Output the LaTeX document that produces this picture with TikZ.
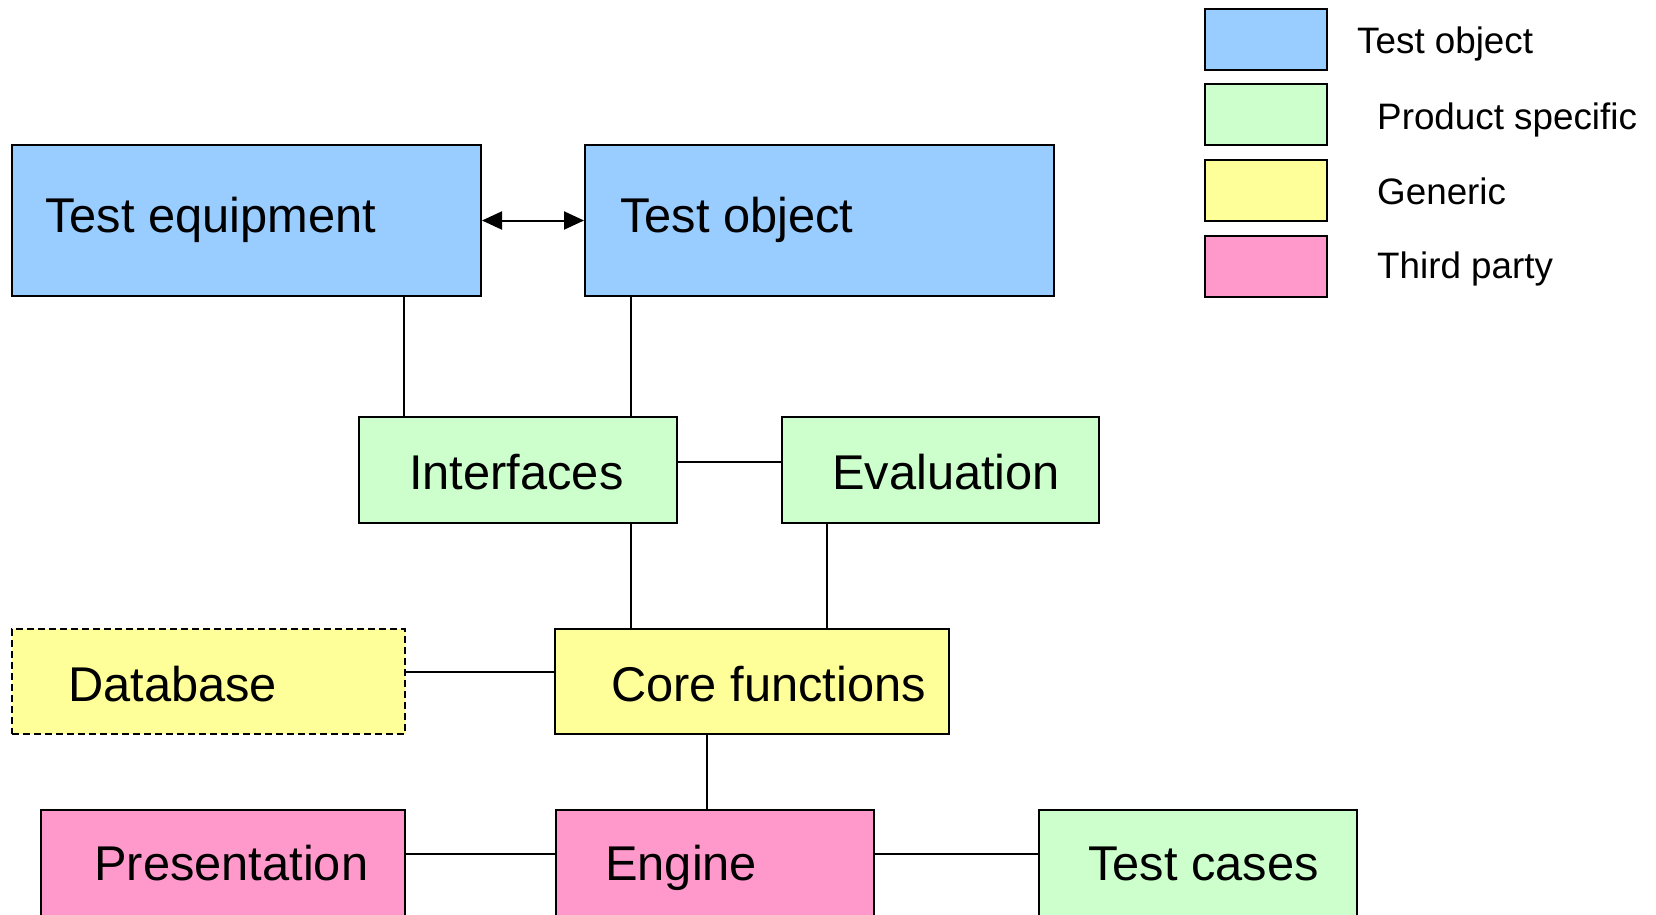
\documentclass[tikz,border=0pt]{standalone}
\usepackage{fontspec}
\setmainfont{Liberation Sans}
\usetikzlibrary{arrows.meta}
\definecolor{objblue}{HTML}{99CCFF}
\definecolor{prodgreen}{HTML}{CCFFCC}
\definecolor{genyellow}{HTML}{FFFF99}
\definecolor{thirdpink}{HTML}{FF99CC}
\begin{document}
\begin{tikzpicture}[x=1pt,y=-1pt,
  box/.style={draw=black, line width=2pt, inner sep=0pt, anchor=north west},
  legbox/.style={box, minimum width=122pt, minimum height=61pt},
  bigtext/.style={anchor=base west, inner sep=0pt, font=\fontsize{48.8pt}{58pt}\selectfont},
  legtext/.style={anchor=base west, inner sep=0pt, font=\fontsize{36.8pt}{43pt}\selectfont},
  link/.style={draw=black, line width=2pt},
  headtip/.tip={Triangle[length=20pt,width=18pt]}]
\useasboundingbox (0,0) rectangle (1656,914);
\clip (0,0) rectangle (1656,914);

% component boxes
\node[box, fill=objblue, minimum width=469pt, minimum height=151pt] (equip) at (11,144) {};
\node[box, fill=objblue, minimum width=469pt, minimum height=151pt] (tobj) at (584,144) {};
\node[box, fill=prodgreen, minimum width=318pt, minimum height=106pt] (iface) at (358,416) {};
\node[box, fill=prodgreen, minimum width=317pt, minimum height=106pt] (eval) at (781,416) {};
\node[box, fill=genyellow, dash pattern=on 7pt off 4pt, minimum width=393pt, minimum height=105pt] (db) at (11,628) {};
\node[box, fill=genyellow, minimum width=394pt, minimum height=105pt] (core) at (554,628) {};
\node[box, fill=thirdpink, minimum width=364pt, minimum height=130pt] (pres) at (40,809) {};
\node[box, fill=thirdpink, minimum width=318pt, minimum height=130pt] (engine) at (555,809) {};
\node[box, fill=prodgreen, minimum width=318pt, minimum height=130pt] (cases) at (1038,809) {};

% box labels
\node[bigtext] (lequip) at (45,232) {Test equipment};
\node[bigtext] (ltobj) at (620,232) {Test object};
\node[bigtext] (liface) at (409,489) {Interfaces};
\node[bigtext] (leval) at (832,489) {Evaluation};
\node[bigtext] (ldb) at (68,701) {Database};
\node[bigtext] (lcore) at (611,701) {Core functions};
\node[bigtext] (lpres) at (94,880) {Presentation};
\node[bigtext] (lengine) at (605,880) {Engine};
\node[bigtext] (lcases) at (1088,880) {Test cases};

% legend
\node[legbox, fill=objblue] (k1) at (1204,8) {};
\node[legbox, fill=prodgreen] (k2) at (1204,83) {};
\node[legbox, fill=genyellow] (k3) at (1204,159) {};
\node[legbox, fill=thirdpink] (k4) at (1204,235) {};
\node[legtext] (lk1) at (1357,53) {Test object};
\node[legtext] (lk2) at (1377,129) {Product specific};
\node[legtext] (lk3) at (1377,204) {Generic};
\node[legtext] (lk4) at (1377,278) {Third party};

% connector positions
\coordinate (xa) at (403.5,0);
\coordinate (xb) at (630.5,0);
\coordinate (xc) at (827,0);
\coordinate (xd) at (706.5,0);
\coordinate (ya) at (0,461.5);
\coordinate (yb) at (0,672);
\coordinate (yc) at (0,854);

% connectors
\draw[link, headtip-headtip] (equip.east) -- (tobj.west);
\draw[link] (equip.south -| xa) -- (iface.north -| xa);
\draw[link] (tobj.south -| xb) -- (iface.north -| xb);
\draw[link] (iface.east |- ya) -- (eval.west |- ya);
\draw[link] (iface.south -| xb) -- (core.north -| xb);
\draw[link] (eval.south -| xc) -- (core.north -| xc);
\draw[link] (db.east |- yb) -- (core.west |- yb);
\draw[link] (core.south -| xd) -- (engine.north -| xd);
\draw[link] (pres.east |- yc) -- (engine.west |- yc);
\draw[link] (engine.east |- yc) -- (cases.west |- yc);
\end{tikzpicture}
\end{document}
